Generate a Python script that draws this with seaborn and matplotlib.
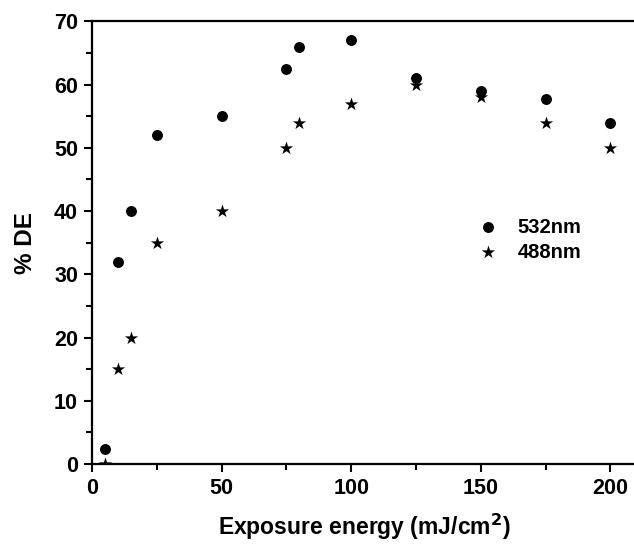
import matplotlib
matplotlib.use("Agg")
import matplotlib.pyplot as plt
import seaborn as sns
import pandas as pd
from matplotlib.ticker import MultipleLocator

energy = [5, 10, 15, 25, 50, 75, 80, 100, 125, 150, 175, 200]
de_532 = [2.3, 32, 40, 52, 55, 62.5, 66, 67, 61, 59, 57.8, 54]
de_488 = [0, 15, 20, 35, 40, 50, 54, 57, 60, 58, 54, 50]
series_names = ["532nm", "488nm"]

df = pd.concat([
    pd.DataFrame({"energy": energy, "DE": de_532, "series": series_names[0]}),
    pd.DataFrame({"energy": energy, "DE": de_488, "series": series_names[1]}),
])

sns.set_style("white")
plt.rcParams["font.family"] = ["Liberation Sans", "DejaVu Sans"]
plt.rcParams["font.weight"] = "bold"
for k in ["text.color", "axes.labelcolor", "xtick.color", "ytick.color", "axes.edgecolor"]:
    plt.rcParams[k] = "black"

fig = plt.figure(figsize=(6.34, 5.44), dpi=100)
ax = fig.add_axes([0.1451, 0.147, 0.8585, 0.8137])

sub1 = df[df.series == series_names[0]]
sub2 = df[df.series == series_names[1]]
sns.scatterplot(data=sub1, x="energy", y="DE", marker="o", color="black",
                s=62, linewidth=0, ax=ax, label=series_names[0])
sns.scatterplot(data=sub2, x="energy", y="DE", marker="*", color="black",
                s=100, linewidth=0, ax=ax, label=series_names[1])

ax.set_xlim(0, 210)
ax.set_ylim(0, 70)
ax.xaxis.set_major_locator(MultipleLocator(50))
ax.xaxis.set_minor_locator(MultipleLocator(25))
ax.yaxis.set_major_locator(MultipleLocator(10))
ax.yaxis.set_minor_locator(MultipleLocator(5))
ax.tick_params(which="major", direction="out", length=6, width=1.5,
               labelsize=15.5, bottom=True, left=True, top=False, right=False, pad=4,
               colors="black")
ax.tick_params(which="minor", direction="out", length=4, width=1.5,
               bottom=True, left=True, top=False, right=False, colors="black")
for lab in ax.get_xticklabels() + ax.get_yticklabels():
    lab.set_fontweight("bold")
for sp in ax.spines.values():
    sp.set_linewidth(1.6)
    sp.set_color("black")
ax.spines["right"].set_visible(False)

ax.set_xlabel("Exposure energy (mJ/cm$^\\mathbf{2}$)", fontsize=16.5, fontweight="bold",
              labelpad=9, color="black")
ax.set_ylabel("% DE", fontsize=17.5, fontweight="bold", labelpad=12, color="black")

leg = ax.legend(loc="upper left", bbox_to_anchor=(0.675, 0.575), frameon=False,
                fontsize=14.5, handletextpad=0.5, labelspacing=0.3, borderaxespad=0)
for t in leg.get_texts():
    t.set_fontweight("bold")
    t.set_color("black")

fig.savefig("out.png", dpi=100)
